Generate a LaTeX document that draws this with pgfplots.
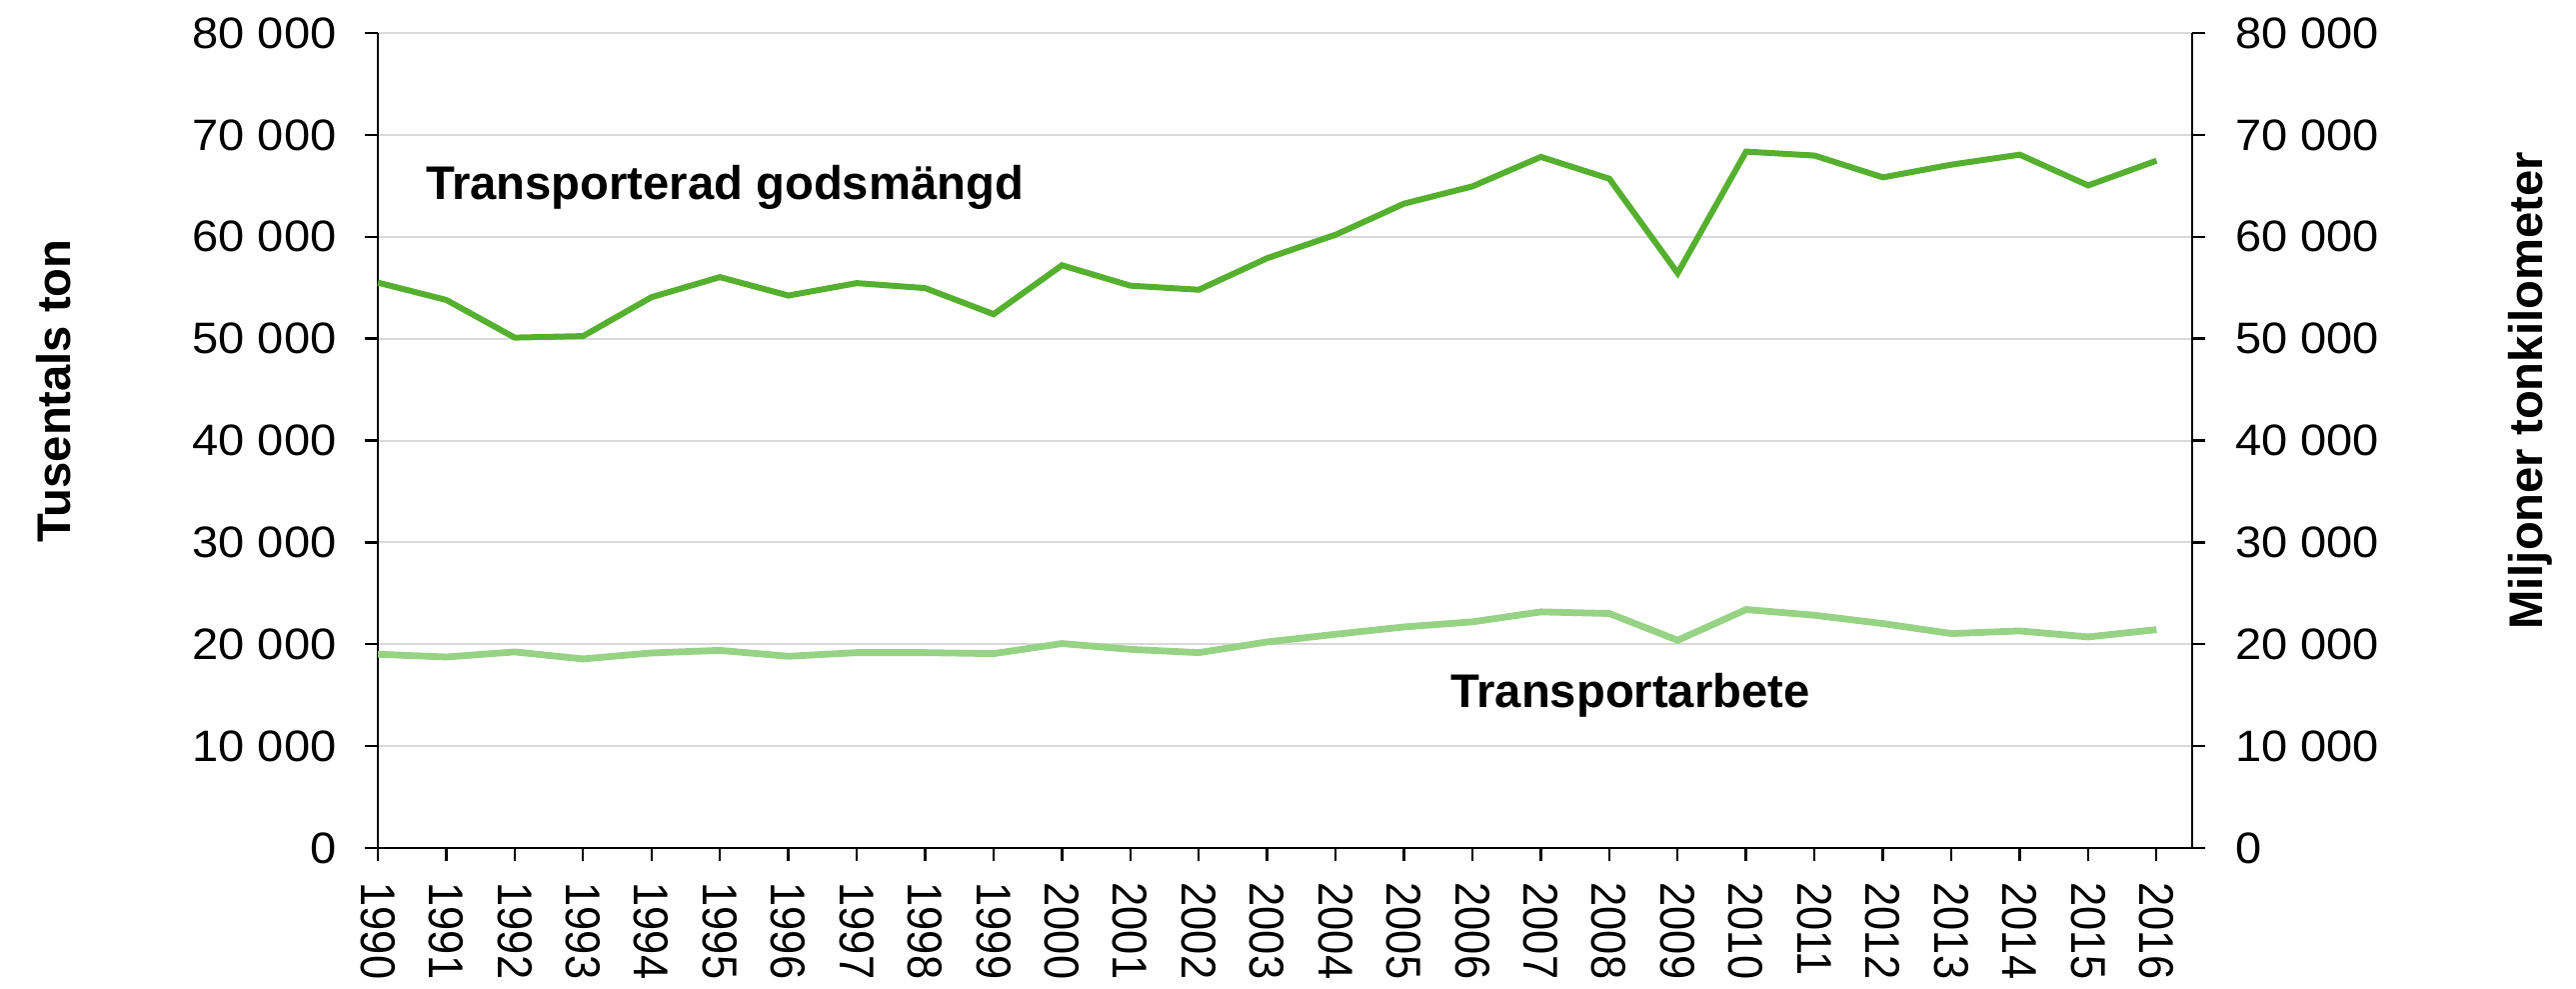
\documentclass[border=0pt]{standalone}
\usepackage{fontspec}
\setmainfont{Liberation Sans}[FakeStretch=1.07]
\newfontfamily\yearfont{Liberation Sans}[FakeStretch=0.89]
\newfontfamily\labfont{Liberation Sans}
\usepackage{pgfplots}
\pgfplotsset{compat=1.18}
\definecolor{dkgreen}{HTML}{56B030}
\definecolor{ltgreen}{HTML}{97D384}
\definecolor{gridgray}{HTML}{D9D9D9}
\begin{document}
\fontsize{11}{13}\selectfont
\begin{tikzpicture}
\useasboundingbox (-94.5pt,-35pt) rectangle (549.75pt,212pt);
\begin{axis}[
  at={(0,0)}, anchor=south west,
  scale only axis, width=453.75pt, height=203.75pt,
  xmin=1990, xmax=2016.52, ymin=0, ymax=80000,
  scaled y ticks=false,
  axis x line*=bottom, axis y line*=left,
  axis line style={black, line width=0.6pt},
  tick style={black, line width=0.6pt},
  tick align=outside, major tick length=3.3pt,
  yticklabel shift=3.2pt, xticklabel shift=1.5pt,
  xtick={1990,...,2016},
  xticklabels={1990,1991,1992,1993,1994,1995,1996,1997,1998,1999,2000,2001,2002,2003,2004,2005,2006,2007,2008,2009,2010,2011,2012,2013,2014,2015,2016},
  xticklabel style={rotate=-90, anchor=west, font=\yearfont\fontsize{12.2}{13}\selectfont},
  ytick={0,10000,...,80000},
  yticklabels={0,10 000,20 000,30 000,40 000,50 000,60 000,70 000,80 000},
  ymajorgrids, grid style={gridgray, line width=0.5pt},
  clip=false,
]
\addplot[dkgreen, line width=1.5pt] coordinates {
(1990,55500) (1991,53800) (1992,50100) (1993,50250) (1994,54070)
(1995,56040) (1996,54230) (1997,55450) (1998,54960) (1999,52400)
(2000,57200) (2001,55200) (2002,54800) (2003,57900) (2004,60200)
(2005,63250) (2006,64950) (2007,67840) (2008,65700) (2009,56430)
(2010,68360) (2011,67970) (2012,65830) (2013,67080) (2014,68060)
(2015,65040) (2016,67470)};
\node[anchor=base west, font=\labfont\bfseries\fontsize{11.8}{13}\selectfont, inner sep=0pt] at (axis cs:1990.69,63640) {Transporterad godsmängd};
\node[anchor=base west, font=\labfont\bfseries\fontsize{11.8}{13}\selectfont, inner sep=0pt] at (axis cs:2005.67,13800) {Transportarbete};
\end{axis}
\begin{axis}[
  at={(0,0)}, anchor=south west,
  scale only axis, width=453.75pt, height=203.75pt,
  xmin=1990, xmax=2016.52, ymin=0, ymax=80000,
  scaled y ticks=false,
  axis x line=none, axis y line*=right,
  axis line style={black, line width=0.6pt},
  tick style={black, line width=0.6pt},
  tick align=outside, major tick length=3.3pt,
  yticklabel shift=3.6pt,
  ytick={0,10000,...,80000},
  yticklabels={0,10 000,20 000,30 000,40 000,50 000,60 000,70 000,80 000},
]
\addplot[ltgreen, line width=1.7pt] coordinates {
(1990,19020) (1991,18750) (1992,19250) (1993,18560) (1994,19150)
(1995,19400) (1996,18820) (1997,19180) (1998,19180) (1999,19080)
(2000,20070) (2001,19500) (2002,19180) (2003,20230) (2004,20980)
(2005,21700) (2006,22200) (2007,23180) (2008,23020) (2009,20390)
(2010,23410) (2011,22850) (2012,22030) (2013,21050) (2014,21310)
(2015,20720) (2016,21440)};
\end{axis}
\node[rotate=90, font=\labfont\bfseries\fontsize{11.8}{13}\selectfont] at (-81pt,114.25pt) {Tusentals ton};
\node[rotate=90, font=\labfont\bfseries\fontsize{11.8}{13}\selectfont] at (538.25pt,114.25pt) {Miljoner tonkilometer};
\end{tikzpicture}
\end{document}
